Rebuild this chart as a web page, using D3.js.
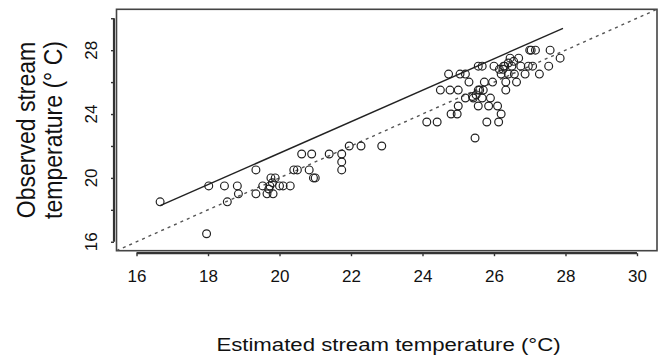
<!DOCTYPE html>
<html>
<head>
<meta charset="utf-8">
<script src="https://cdn.jsdelivr.net/npm/d3@7"></script>
<style>
  body { margin: 0; background: #fff; }
  svg text { font-family: "Liberation Sans", Arial, Helvetica, sans-serif; fill: #111; }
</style>
</head>
<body>
<div id="chart"></div>
<script>
// estimated vs observed stream temperature (deg C)
const estimated = [
  16.66, 17.96, 18.02, 18.46, 18.54, 18.82, 18.85, 19.34, 19.34, 19.53,
  19.65, 19.73, 19.76, 19.82, 19.88, 20.0, 20.1, 20.3, 20.4, 20.5,
  20.62, 20.83, 20.9, 20.95, 21.0, 21.39, 21.74, 21.74, 21.74, 21.95,
  22.28, 22.86, 24.12, 24.41, 24.5, 24.73, 24.77, 24.8, 24.97, 25.0,
  25.0, 25.05, 25.2, 25.2, 25.3, 25.42, 25.47, 25.56, 25.56, 25.56,
  25.67, 25.67, 25.73, 25.8, 25.85, 25.9, 25.96, 26.0, 26.1, 26.13,
  26.2, 26.2, 26.27, 26.33, 26.33, 26.4, 26.45, 26.5, 26.63, 26.69,
  26.75, 26.87, 27.0, 27.04, 27.16, 27.08, 27.27, 27.53, 27.57, 27.85,
  26.96, 26.57, 25.4, 25.5, 25.6, 25.7, 26.15, 26.25, 26.3, 26.4,
  26.55, 19.7, 19.8
];
const observed = [
  18.5, 16.5, 19.5, 19.5, 18.5, 19.5, 19.0, 20.5, 19.0, 19.5,
  19.0, 19.5, 20.0, 19.0, 20.0, 19.5, 19.5, 19.5, 20.5, 20.5,
  21.5, 20.5, 21.5, 20.0, 20.0, 21.5, 21.5, 21.0, 20.5, 22.0,
  22.0, 22.0, 23.5, 23.5, 25.5, 26.5, 25.5, 24.0, 24.0, 25.5,
  24.5, 26.5, 26.5, 25.0, 26.0, 25.0, 22.5, 27.0, 25.5, 24.5,
  27.0, 25.0, 26.0, 23.5, 24.5, 25.0, 26.0, 27.0, 24.5, 23.5,
  24.0, 26.5, 27.0, 26.0, 25.5, 26.5, 27.5, 27.0, 26.0, 27.5,
  27.0, 26.5, 28.0, 28.0, 28.0, 27.0, 26.5, 27.0, 28.0, 27.5,
  27.0, 26.5, 25.1, 25.2, 25.5, 25.5, 26.8, 26.8, 27.0, 27.2,
  27.3, 19.3, 19.7
];

// fitted regression line
const fitRange = [16.66, 27.93];
const fitIntercept = 1.83;
const fitSlope = 0.986;

const xTicks = [16, 18, 20, 22, 24, 26, 28, 30];
const yTicks = [16, 18, 20, 22, 24, 26, 28, 30];
const yTickLabels = [16, 20, 24, 28];
const domain = [15.44, 30.56];

const width = 663, height = 358;
const box = { left: 116.5, right: 657, top: 9.3, bottom: 250.7 };

const svg = d3.select("#chart").append("svg")
    .attr("width", width)
    .attr("height", height);

const x = d3.scaleLinear().domain(domain).range([box.left, box.right]);
const y = d3.scaleLinear().domain(domain).range([box.bottom, box.top]);

svg.append("clipPath").attr("id", "clip")
  .append("rect")
    .attr("x", box.left).attr("y", box.top)
    .attr("width", box.right - box.left)
    .attr("height", box.bottom - box.top);

// x axis, drawn a little below the box like R does
const xAxis = svg.append("g")
    .attr("transform", "translate(0," + (box.bottom + 2.5) + ")")
    .call(d3.axisBottom(x).tickValues(xTicks).tickSize(3).tickFormat(d3.format("d")));
xAxis.select(".domain").attr("stroke", "#333").attr("stroke-width", 2.2)
    .attr("d", "M" + x(16) + ",0H" + x(30));
xAxis.selectAll(".tick line").attr("stroke", "#333").attr("stroke-width", 1.4);
xAxis.selectAll(".tick text")
    .attr("y", 0).attr("dy", 0)
    .attr("transform", "translate(0,29)")
    .style("font-size", "17px");

const yAxis = svg.append("g")
    .attr("transform", "translate(" + (box.left - 2.5) + ",0)")
    .call(d3.axisLeft(y).tickValues(yTicks).tickSize(3).tickFormat(""));
yAxis.select(".domain").attr("stroke", "#333").attr("stroke-width", 2.2)
    .attr("d", "M0," + y(30) + "V" + y(16));
yAxis.selectAll(".tick line").attr("stroke", "#333").attr("stroke-width", 1.4);

svg.append("g").selectAll("text")
  .data(yTickLabels)
  .enter().append("text")
    .attr("transform", function(d) { return "translate(96.5," + y(d) + ") rotate(-90)"; })
    .attr("text-anchor", "middle")
    .style("font-size", "17px")
    .text(function(d) { return d; });

// plot box
svg.append("rect")
    .attr("x", box.left).attr("y", box.top)
    .attr("width", box.right - box.left)
    .attr("height", box.bottom - box.top)
    .attr("fill", "none")
    .attr("stroke", "#444")
    .attr("stroke-width", 1.6);

const plot = svg.append("g").attr("clip-path", "url(#clip)");

// 1:1 line
plot.append("line")
    .attr("x1", x(domain[0])).attr("y1", y(domain[0]))
    .attr("x2", x(domain[1])).attr("y2", y(domain[1]))
    .attr("stroke", "#555")
    .attr("stroke-width", 1.4)
    .attr("stroke-dasharray", "3,4");

// regression line
plot.append("line")
    .attr("x1", x(fitRange[0])).attr("y1", y(fitIntercept + fitSlope * fitRange[0]))
    .attr("x2", x(fitRange[1])).attr("y2", y(fitIntercept + fitSlope * fitRange[1]))
    .attr("stroke", "#222")
    .attr("stroke-width", 1.4);

plot.selectAll("circle")
  .data(estimated.map(function(d, i) { return [d, observed[i]]; }))
  .enter().append("circle")
    .attr("cx", function(d) { return x(d[0]); })
    .attr("cy", function(d) { return y(d[1]); })
    .attr("r", 3.9)
    .attr("fill", "none")
    .attr("stroke", "#222")
    .attr("stroke-width", 1.2);

// axis titles (source image is stretched sideways a bit)
svg.append("text")
    .attr("transform", "translate(388.5,351) scale(1.2,1)")
    .attr("text-anchor", "middle")
    .style("font-size", "18.5px")
    .text("Estimated stream temperature (°C)");

const yTitle = svg.append("g")
    .attr("transform", "translate(0,130)");
yTitle.append("text")
    .attr("transform", "translate(35,0) scale(1.15,1) rotate(-90)")
    .attr("text-anchor", "middle")
    .style("font-size", "23px")
    .text("Observed stream");
yTitle.append("text")
    .attr("transform", "translate(61.5,0) scale(1.15,1) rotate(-90)")
    .attr("text-anchor", "middle")
    .style("font-size", "23px")
    .text("temperature (° C)");
</script>
</body>
</html>
